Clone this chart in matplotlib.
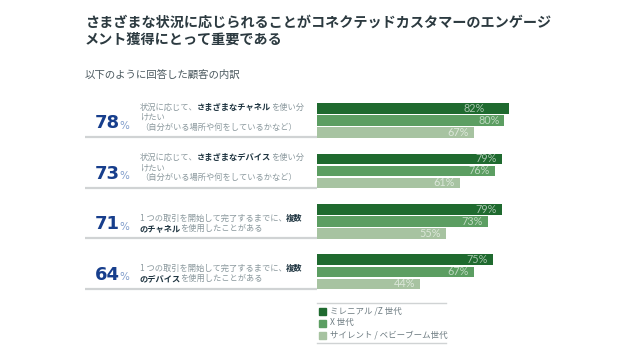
import matplotlib
matplotlib.use("Agg")
import matplotlib.pyplot as plt
from matplotlib.transforms import blended_transform_factory

plt.rcParams['font.family'] = ['Noto Sans CJK JP', 'DejaVu Sans']

# --- data ---
title = "さまざまな状況に応じられることがコネクテッドカスタマーのエンゲージ\nメント獲得にとって重要である"
subtitle = "以下のように回答した顧客の内訳"
series_names = ["ミレニアル /Z 世代", "X 世代", "サイレント / ベビーブーム世代"]
series_colors = ["#1f6a2f", "#5c9e62", "#a7c3a1"]
totals = [78, 73, 71, 64]
millennial = [82, 79, 79, 75]
gen_x = [80, 76, 73, 67]
silent = [67, 61, 55, 44]

# each question: list of lines, each line a list of (text, bold) runs
questions = [
    [[("状況に応じて、", False), ("さまざまなチャネル", True), ("を使い分", False)],
     [("けたい", False)],
     [("（自分がいる場所や何をしているかなど）", False)]],
    [[("状況に応じて、", False), ("さまざまなデバイス", True), ("を使い分", False)],
     [("けたい", False)],
     [("（自分がいる場所や何をしているかなど）", False)]],
    [[("1 つの取引を開始して完了するまでに、", False), ("複数", True)],
     [("のチャネル", True), ("を使用したことがある", False)]],
    [[("1 つの取引を開始して完了するまでに、", False), ("複数", True)],
     [("のデバイス", True), ("を使用したことがある", False)]],
]

W, H = 640, 360
fig = plt.figure(figsize=(W / 100, H / 100), dpi=100)
fig.patch.set_facecolor("white")
renderer = fig.canvas.get_renderer()

def fx(px):
    return px / W

def fy(py):
    return 1 - py / H

desc_size = 5.95

def text_px(s, bold):
    t = fig.text(0, 0, s, fontsize=desc_size, fontweight="bold" if bold else "normal")
    w = t.get_window_extent(renderer=renderer).width
    t.remove()
    return w

# bar axes (one group unit = 50.5 px)
ax_top, ax_bot = 95, 298
ax = fig.add_axes([fx(317), fy(ax_bot), fx(234), (ax_bot - ax_top) / H])
ax.set_xlim(0, 100)
ax.set_ylim(-0.5 + (ax_bot - ax_top) / 50.5, -0.5)
ax.axis("off")

step = 12 / 50.5
bar_h = 10.5 / 50.5
all_series = [millennial, gen_x, silent]
for s, vals in enumerate(all_series):
    for g, v in enumerate(vals):
        y = g + (s - 1) * step
        ax.barh(y, v, height=bar_h, color=series_colors[s], edgecolor="none")
        # the first label sits further inside its bar in the original
        pad = 10.5 if (s == 0 and g == 0) else 2.0
        ax.text(v - pad, y, f"{v}%", ha="right", va="center", fontsize=7.8,
                color="white", alpha=0.6, family=["Lato", "DejaVu Sans"])

# text on the left, x in figure coords, y in group units
tr = blended_transform_factory(fig.transFigure, ax.transData)
line_gap = 10 / 50.5
gray = "#8a989d"
dark = "#1e3440"

for g, lines in enumerate(questions):
    # big total
    ax.text(fx(120), g + 3 / 50.5, str(totals[g]), transform=tr, ha="right",
            va="center", fontsize=13, fontweight="bold", color="#173e8c",
            family=["DejaVu Sans"], clip_on=False)
    ax.text(fx(119.5), g + 5.5 / 50.5, "%", transform=tr, ha="left", va="center",
            fontsize=7.5, color="#7f9ccb", family=["DejaVu Sans"], clip_on=False)
    # description, bottom aligned
    n = len(lines)
    for i, runs in enumerate(lines):
        y = g + 7 / 50.5 - (n - 1 - i) * line_gap
        x = 140
        for txt, bold in runs:
            ax.text(fx(x), y, txt, transform=tr, ha="left", va="center",
                    fontsize=desc_size, fontweight="bold" if bold else "normal",
                    color=dark if bold else gray, clip_on=False)
            x += text_px(txt, bold) - 0.6
    # separator line
    ax.plot([fx(85), fx(317)], [g + 17 / 50.5] * 2, transform=tr, color="#d0d3d4",
            lw=1.6, clip_on=False, solid_capstyle="butt")

# title + subtitle
fig.text(fx(85), fy(31), title, ha="left", va="center", fontsize=10.2,
         fontweight="bold", color="#2c3a40", linespacing=1.3)
fig.text(fx(85), fy(75), subtitle, ha="left", va="center", fontsize=7.5,
         color="#4c5a60")

# legend
fig.add_artist(plt.Line2D([fx(317), fx(446)], [fy(303), fy(303)], color="#d0d3d4", lw=1))
fig.add_artist(plt.Line2D([fx(317), fx(446)], [fy(343), fy(343)], color="#d0d3d4", lw=1))
for i, name in enumerate(series_names):
    yy = 311 + i * 12
    fig.patches.append(plt.Rectangle((fx(319), fy(yy + 3.5)), fx(7), 7 / H,
                                     transform=fig.transFigure, color=series_colors[i]))
    fig.text(fx(330), fy(yy), name, ha="left", va="center", fontsize=6.1, color="#6c7a80")

fig.savefig("out.png", dpi=100)
